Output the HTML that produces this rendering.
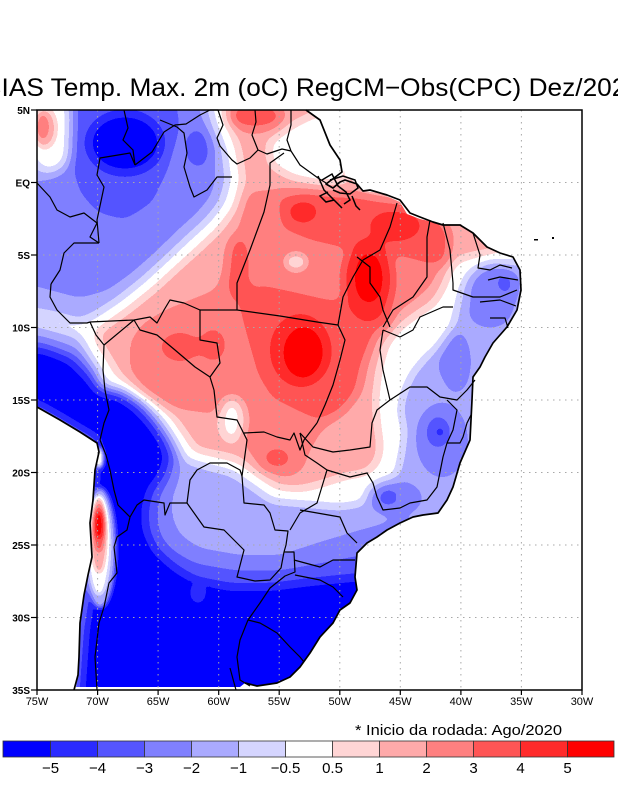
<!DOCTYPE html>
<html><head><meta charset="utf-8"><style>
html,body{margin:0;padding:0;background:#fff;width:618px;height:800px;overflow:hidden;}
svg{display:block;}
.l0{fill:#0a0a0a}.l1{fill:#1d1d1d}.l2{fill:#313131}.l3{fill:#454545}.l4{fill:#585858}.l5{fill:#6c6c6c}.l6{fill:#808080}.l7{fill:#939393}.l8{fill:#a7a7a7}.l9{fill:#bababa}.l10{fill:#cecece}.l11{fill:#e2e2e2}.l12{fill:#f5f5f5}
.b{fill:none;stroke:#000;stroke-width:1.2;stroke-linejoin:round}
.c{fill:none;stroke:#000;stroke-width:1.7;stroke-linejoin:round}
.g{stroke:#a8a8a8;stroke-width:1;stroke-dasharray:1.5 4.5}
.lab{font-family:"Liberation Sans",sans-serif;font-size:10px;font-weight:bold;fill:#000}
</style></head><body>
<svg width="618" height="800" viewBox="0 0 618 800" xmlns="http://www.w3.org/2000/svg">
<defs>
<clipPath id="land"><polygon points="37,110 306,110 320,120 330,145 342,160 345,175 357,184 363,191 380,193 400,202 407,214 420,219 433,222 443,225 460,225 473,233 487,247 500,253 513,257 520,270 521,290 517,310 507,327 493,343 485,357 480,367 473,377 472,400 470,440 460,463 453,487 447,500 438,513 423,515 413,517 400,523 387,530 377,537 367,543 357,553 355,577 357,590 350,603 340,610 333,623 320,637 310,653 300,667 290,677 277,683 257,686 245,683 240,687 76,687 78,675 79,657 80,623 84,595 88,575 92,557 90,523 93,500 95,470 99,452 97,443 80,432 60,420 37,407"/></clipPath>
<filter id="b6" x="0" y="0" width="618" height="800" filterUnits="userSpaceOnUse" color-interpolation-filters="sRGB"><feGaussianBlur stdDeviation="6"/></filter>
<filter id="b2" x="0" y="0" width="618" height="800" filterUnits="userSpaceOnUse" color-interpolation-filters="sRGB"><feGaussianBlur stdDeviation="2.5"/></filter>
<filter id="q" x="0" y="0" width="618" height="800" filterUnits="userSpaceOnUse" color-interpolation-filters="sRGB">
<feComponentTransfer>
<feFuncR type="discrete" tableValues="0 0.1667 0.3333 0.5 0.6667 0.8333 1 1 1 1 1 1 1"/>
<feFuncG type="discrete" tableValues="0 0.1667 0.3333 0.5 0.6667 0.8333 1 0.8333 0.6667 0.5 0.3333 0.1667 0"/>
<feFuncB type="discrete" tableValues="1 1 1 1 1 1 1 0.8333 0.6667 0.5 0.3333 0.1667 0"/>
</feComponentTransfer>
</filter>
</defs>
<rect width="618" height="800" fill="#fff"/>

<g clip-path="url(#land)"><g filter="url(#q)">
<g filter="url(#b6)">
<rect x="0" y="0" width="618" height="800" class="l6"/>
<!-- NW blue -->
<polygon class="l4" points="0,0 205,0 205,90 214,125 224,150 228,180 222,202 208,220 188,238 168,257 143,280 118,300 95,315 80,322 55,315 0,305"/>
<polygon class="l3" points="0,185 45,180 70,165 82,130 85,0 195,0 195,90 205,125 214,150 216,180 210,198 195,215 176,232 156,252 132,273 108,290 80,298 50,290 20,282 0,282"/>
<ellipse class="l6" cx="50" cy="132" rx="24" ry="40"/>
<polygon class="l2" points="72,100 175,96 180,125 168,170 152,203 125,220 98,213 80,193 70,160"/>
<ellipse class="l2" cx="198" cy="148" rx="13" ry="20"/>
<ellipse class="l0" cx="125" cy="143" rx="37" ry="30"/>
<!-- South / East blue -->
<polygon class="l4" points="0,318 30,322 78,335 84,345 93,365 105,385 125,393 148,406 163,424 175,442 184,460 208,467 232,473 251,486 272,501 317,505 340,507 365,503 385,490 397,475 402,452 405,432 400,410 404,392 412,374 425,358 440,345 452,330 458,305 463,285 472,271 495,264 618,255 618,800 0,800"/>
<polygon class="l3" points="0,330 45,338 80,350 97,368 100,387 123,390 143,402 159,420 171,438 180,458 178,480 172,497 172,517 180,535 200,548 240,555 280,555 320,542 360,530 390,522 618,515 618,800 0,800"/>
<polygon class="l2" points="0,337 45,344 75,355 92,373 100,390 120,392 140,405 155,422 167,440 176,458 170,478 160,495 157,515 160,535 172,550 195,563 235,570 280,570 320,563 360,555 618,552 618,800 0,800"/>
<polygon class="l0" points="0,345 45,350 70,360 88,378 100,392 117,395 135,407 150,423 162,440 168,457 162,475 150,490 145,510 146,530 155,550 175,568 195,580 230,587 270,587 310,582 360,577 618,575 618,800 0,800"/>
<polygon class="l3" points="0,400 37,405 60,418 80,430 99,441 95,470 92,520 92,580 84,630 79,700 0,700"/>
<ellipse class="l3" cx="493" cy="293" rx="24" ry="30"/>
<ellipse class="l3" cx="490" cy="312" rx="22" ry="16"/>
<ellipse class="l2" cx="506" cy="283" rx="10" ry="11"/>
<ellipse class="l3" cx="456" cy="362" rx="15" ry="32"/>
<ellipse class="l2" cx="450" cy="366" rx="7" ry="8"/>
<ellipse class="l3" cx="442" cy="440" rx="26" ry="38"/>
<ellipse class="l2" cx="438" cy="432" rx="13" ry="17"/>
<ellipse class="l3" cx="395" cy="498" rx="28" ry="18"/>
<ellipse class="l2" cx="388" cy="497" rx="11" ry="9"/>
<!-- Red -->
<polygon class="l8" points="222,0 345,0 345,90 350,150 362,185 430,198 505,228 508,245 490,252 468,256 452,262 444,285 434,303 415,315 398,328 385,345 378,372 375,400 377,425 380,445 378,460 368,472 345,476 320,484 300,489 278,487 259,474 238,459 212,453 196,450 186,435 172,415 152,399 132,386 119,375 107,355 95,335 106,326 130,309 155,289 180,266 200,248 220,229 236,208 243,181 239,150 230,125 222,90"/>
<polygon class="l6" points="268,142 290,126 318,112 335,118 348,150 348,182 320,184 292,178 270,165"/>
<polygon class="l9" points="248,192 290,188 330,193 360,193 425,210 445,235 442,262 432,285 415,300 395,315 378,330 368,360 362,390 345,412 322,430 310,450 303,470 288,478 262,472 248,450 240,435 225,415 200,412 170,408 145,395 130,370 130,342 142,324 165,310 190,300 215,290 228,265 238,230 243,205"/>
<ellipse class="l10" cx="255" cy="116" rx="28" ry="14"/>
<polygon class="l10" points="278,198 310,191 345,194 385,199 430,207 450,232 448,264 430,264 405,257 370,252 340,247 310,240 282,228"/>
<polygon class="l10" points="240,292 262,285 295,292 330,300 360,300 390,306 392,322 375,335 362,365 355,395 340,412 318,420 296,410 272,398 258,375 248,340 240,310"/>
<ellipse class="l10" cx="238" cy="265" rx="11" ry="30"/>
<ellipse class="l10" cx="180" cy="347" rx="20" ry="15"/>
<ellipse class="l10" cx="213" cy="345" rx="13" ry="17"/>
<ellipse class="l10" cx="277" cy="458" rx="14" ry="10"/>
<ellipse class="l11" cx="303" cy="212" rx="15" ry="11"/>
<ellipse class="l11" cx="368" cy="280" rx="25" ry="42"/>
<ellipse class="l11" cx="300" cy="350" rx="30" ry="36"/>
<ellipse class="l11" cx="240" cy="290" rx="7" ry="9"/>
<ellipse class="l11" cx="395" cy="226" rx="26" ry="15"/>
<ellipse class="l12" cx="369" cy="278" rx="15" ry="26"/>
<ellipse class="l12" cx="304" cy="353" rx="21" ry="27"/>
<ellipse class="l6" cx="232" cy="420" rx="12" ry="22"/>
</g>
<g filter="url(#b2)">
<ellipse class="l7" cx="45" cy="128" rx="13" ry="22"/>
<ellipse class="l8" cx="44" cy="128" rx="10" ry="17"/>
<ellipse class="l9" cx="43" cy="127" rx="6" ry="12"/>
<ellipse class="l4" cx="100" cy="548" rx="16" ry="60"/>
<ellipse class="l6" cx="99" cy="545" rx="11" ry="50"/>
<ellipse class="l8" cx="99" cy="535" rx="8" ry="38"/>
<ellipse class="l10" cx="99" cy="528" rx="6" ry="24"/>
<ellipse class="l12" cx="99" cy="525" rx="4.5" ry="14"/>
<ellipse class="l7" cx="99" cy="458" rx="4" ry="10"/>
<ellipse class="l8" cx="296" cy="262" rx="13" ry="11"/>
<ellipse class="l7" cx="296" cy="262" rx="8" ry="6"/>
<circle class="l1" cx="440" cy="432" r="4"/>
<circle class="l1" cx="388" cy="497" r="3"/>
<ellipse class="l1" cx="198" cy="593" rx="8" ry="10"/>
</g>
</g></g>

<!-- grid -->
<g class="g">
<line x1="97.6" y1="110" x2="97.6" y2="690"/><line x1="158.1" y1="110" x2="158.1" y2="690"/><line x1="218.7" y1="110" x2="218.7" y2="690"/><line x1="279.2" y1="110" x2="279.2" y2="690"/><line x1="339.8" y1="110" x2="339.8" y2="690"/><line x1="400.3" y1="110" x2="400.3" y2="690"/><line x1="460.9" y1="110" x2="460.9" y2="690"/><line x1="521.4" y1="110" x2="521.4" y2="690"/>
<line x1="37" y1="182.5" x2="582" y2="182.5"/><line x1="37" y1="255" x2="582" y2="255"/><line x1="37" y1="327.5" x2="582" y2="327.5"/><line x1="37" y1="400" x2="582" y2="400"/><line x1="37" y1="472.5" x2="582" y2="472.5"/><line x1="37" y1="545" x2="582" y2="545"/><line x1="37" y1="617.5" x2="582" y2="617.5"/>
</g>

<!-- coasts -->
<polyline class="c" points="306,110 320,120 330,145 340,160 342,172 334,178 326,184 333,188 340,182 345,180 357,184 363,191 370,190 387,195 400,200 410,213 420,217 433,222 443,225 460,225 473,233 487,247 500,253 513,257 520,270 521,290 517,310 507,327 493,343 485,357 480,367 473,377 472,400 470,440 460,463 453,487 447,500 438,513 423,515 413,517 400,523 387,530 377,537 367,543 357,553 355,577 357,590 350,603 340,610 333,623 320,637 310,653 300,667 290,677 277,683 257,686 245,683"/>
<polyline class="c" points="37,407 60,420 80,432 97,443 99,452 95,470 93,500 90,523 92,557 88,575 84,595 80,623 79,657 78,675 74,690"/>
<g fill="none" stroke="#000" stroke-width="1.5">
<polyline points="318,176 324,190 330,196 336,202 342,208"/>
<polyline points="322,180 332,174 338,186 346,192 350,200 344,204"/>
<polyline points="330,180 343,176 355,180 358,188 350,194 340,193 333,190"/>
<polyline points="328,192 320,196 326,202 334,200"/>
<polyline points="352,196 356,206 360,210"/>
</g>
<!-- borders -->
<g class="b">
<polyline points="100,440 106,455 110,470 114,490 118,505 130,517 127,530 117,537 114,547 117,573 109,583 104,607 99,623 95,657 97,690"/>
<polyline points="100,440 104,423 109,410 105,390 103,370 104,345 96,335 90,322"/>
<polyline points="51,284 50,297 57,310 70,323 87,323 90,322"/>
<polyline points="51,284 60,270 64,253 74,243 99,243"/>
<polyline points="37,183 50,197 57,210 70,217 84,213 97,223 90,237 99,243"/>
<polyline points="99,243 97,220 104,187 97,175 100,158 130,153 135,165"/>
<polyline points="124,110 128,128 123,140 133,150 135,165"/>
<polyline points="135,165 152,152 164,132 175,125 186,124 200,115 210,110"/>
<polyline points="160,120 177,127 184,133 187,153 184,167 190,187 194,197 207,190 217,177 232,177"/>
<polyline points="210,110 218,110 223,125 217,138 220,146 232,160 237,164 250,158 258,150"/>
<polyline points="255,110 256,122 252,135 258,150"/>
<polyline points="258,150 267,154 282,149 291,151"/>
<polyline points="291,110 291,125 287,140 291,151"/>
<polyline points="291,151 300,165 318,178 326,183"/>
<polyline points="237,310 237,283 250,250 264,212 270,185 270,163 284,153"/>
<polyline points="90,322 134,320 150,317 157,323 164,310 170,300 184,303 200,310 237,310"/>
<polyline points="237,310 280,316 317,322 338,325"/>
<polyline points="200,310 200,340 217,343 220,363 210,377 214,390"/>
<polyline points="104,345 134,320 140,330 157,335 175,350 195,367 210,377"/>
<polyline points="214,390 217,417 237,420 247,440 244,462 242,476"/>
<polyline points="244,433 264,432 277,437 290,440 294,433 300,450 304,440 317,423"/>
<polyline points="317,423 325,405 333,385 340,360 345,340 338,325"/>
<polyline points="338,325 343,297 353,277 363,260 380,250 390,227 397,203"/>
<polyline points="357,257 370,267 370,283 380,297 383,310 390,327"/>
<polyline points="430,220 427,237 427,277 413,297 393,310 383,327"/>
<polyline points="443,223 450,250 453,283"/>
<polyline points="453,283 453,290 473,297 500,297 517,290"/>
<polyline points="473,233 480,255 478,268 490,270 500,265 512,268"/>
<polyline points="488,280 500,277 518,280"/>
<polyline points="480,302 500,300 516,306"/>
<polyline points="490,318 505,318 508,328"/>
<polyline points="453,307 443,307 420,317 413,330 400,337 383,330"/>
<polyline points="383,330 380,350 383,370 390,400"/>
<polyline points="390,400 410,387 427,387 440,397 457,400 467,390 475,380"/>
<polyline points="300,433 313,447 333,452 350,450 370,447 372,423 377,410 390,400"/>
<polyline points="327,470 350,477 367,473 373,483 377,497 383,510 400,508 410,503 427,500 437,487 443,457 447,443 453,430 457,410 447,400"/>
<polyline points="447,443 460,443 463,437 467,423 471,415"/>
<polyline points="290,530 300,513 317,503 327,470 317,463 305,455 300,433"/>
<polyline points="300,510 340,517 347,533 357,543"/>
<polyline points="294,560 320,567 333,560 355,560"/>
<polyline points="295,575 320,580 333,587 343,597"/>
<polyline points="242,476 244,503 264,505 270,513 275,530 288,531 286,545 284,552"/>
<polyline points="284,552 294,552 295,572 285,576 270,588 260,603 248,620"/>
<polyline points="187,503 204,527 224,530 244,550 237,577 255,581 270,580 281,568 284,552"/>
<polyline points="187,503 190,480 197,470 210,463 227,463 240,470 242,476"/>
<polyline points="130,517 137,505 144,500 164,503 165,515 170,503 187,503"/>
<polyline points="248,620 260,623 267,627 277,633 290,647 300,657 304,662"/>
<polyline points="248,620 240,640 237,657 240,680 250,686"/>
<polyline points="230,668 236,690"/>
</g>
<rect x="534" y="239" width="4" height="1.5" fill="#000"/>
<rect x="552" y="237" width="2" height="2" fill="#000"/>

<!-- frame & ticks -->
<rect x="37" y="110" width="545" height="580" fill="none" stroke="#000" stroke-width="1.5"/>
<g stroke="#000" stroke-width="1.2">
<line x1="31" y1="110" x2="37" y2="110"/><line x1="31" y1="182.5" x2="37" y2="182.5"/><line x1="31" y1="255" x2="37" y2="255"/><line x1="31" y1="327.5" x2="37" y2="327.5"/><line x1="31" y1="400" x2="37" y2="400"/><line x1="31" y1="472.5" x2="37" y2="472.5"/><line x1="31" y1="545" x2="37" y2="545"/><line x1="31" y1="617.5" x2="37" y2="617.5"/><line x1="31" y1="690" x2="37" y2="690"/>
<line x1="37" y1="690" x2="37" y2="695"/><line x1="97.6" y1="690" x2="97.6" y2="695"/><line x1="158.1" y1="690" x2="158.1" y2="695"/><line x1="218.7" y1="690" x2="218.7" y2="695"/><line x1="279.2" y1="690" x2="279.2" y2="695"/><line x1="339.8" y1="690" x2="339.8" y2="695"/><line x1="400.3" y1="690" x2="400.3" y2="695"/><line x1="460.9" y1="690" x2="460.9" y2="695"/><line x1="521.4" y1="690" x2="521.4" y2="695"/><line x1="582" y1="690" x2="582" y2="695"/>
</g>
<g class="lab" text-anchor="end">
<text x="30" y="114">5N</text><text x="30" y="186.5">EQ</text><text x="30" y="259">5S</text><text x="30" y="331.5">10S</text><text x="30" y="404">15S</text><text x="30" y="476.5">20S</text><text x="30" y="549">25S</text><text x="30" y="621.5">30S</text><text x="30" y="694">35S</text>
</g>
<g class="lab" text-anchor="middle" style="font-size:11px;font-weight:normal">
<text x="37" y="705">75W</text><text x="97.6" y="705">70W</text><text x="158.1" y="705">65W</text><text x="218.7" y="705">60W</text><text x="279.2" y="705">55W</text><text x="339.8" y="705">50W</text><text x="400.3" y="705">45W</text><text x="460.9" y="705">40W</text><text x="521.4" y="705">35W</text><text x="582" y="705">30W</text>
</g>

<!-- title -->
<text x="-16" y="96" font-family="'Liberation Sans',sans-serif" font-size="25" textLength="657" lengthAdjust="spacingAndGlyphs">BIAS Temp. Max. 2m (oC) RegCM−Obs(CPC) Dez/2020</text>
<text x="355" y="735" font-family="'Liberation Sans',sans-serif" font-size="15" textLength="207" lengthAdjust="spacingAndGlyphs">* Inicio da rodada: Ago/2020</text>

<!-- colorbar -->
<g stroke="#333" stroke-width="0.8">
<rect x="3" y="741" width="47.5" height="16" fill="#0000ff"/>
<rect x="50.5" y="741" width="47" height="16" fill="#2b2bff"/>
<rect x="97.5" y="741" width="47" height="16" fill="#5555ff"/>
<rect x="144.5" y="741" width="47" height="16" fill="#8080ff"/>
<rect x="191.5" y="741" width="47" height="16" fill="#aaaaff"/>
<rect x="238.5" y="741" width="47" height="16" fill="#d5d5ff"/>
<rect x="285.5" y="741" width="47" height="16" fill="#ffffff"/>
<rect x="332.5" y="741" width="47" height="16" fill="#ffd5d5"/>
<rect x="379.5" y="741" width="47" height="16" fill="#ffaaaa"/>
<rect x="426.5" y="741" width="47" height="16" fill="#ff8080"/>
<rect x="473.5" y="741" width="47" height="16" fill="#ff5555"/>
<rect x="520.5" y="741" width="47" height="16" fill="#ff2b2b"/>
<rect x="567.5" y="741" width="46.5" height="16" fill="#ff0000"/>
</g>
<g font-family="'Liberation Sans',sans-serif" font-size="15" text-anchor="middle">
<text x="50.5" y="773">−5</text><text x="97.5" y="773">−4</text><text x="144.5" y="773">−3</text><text x="191.5" y="773">−2</text><text x="238.5" y="773">−1</text><text x="285.5" y="773">−0.5</text><text x="332.5" y="773">0.5</text><text x="379.5" y="773">1</text><text x="426.5" y="773">2</text><text x="473.5" y="773">3</text><text x="520.5" y="773">4</text><text x="567.5" y="773">5</text>
</g>
</svg>
</body></html>
